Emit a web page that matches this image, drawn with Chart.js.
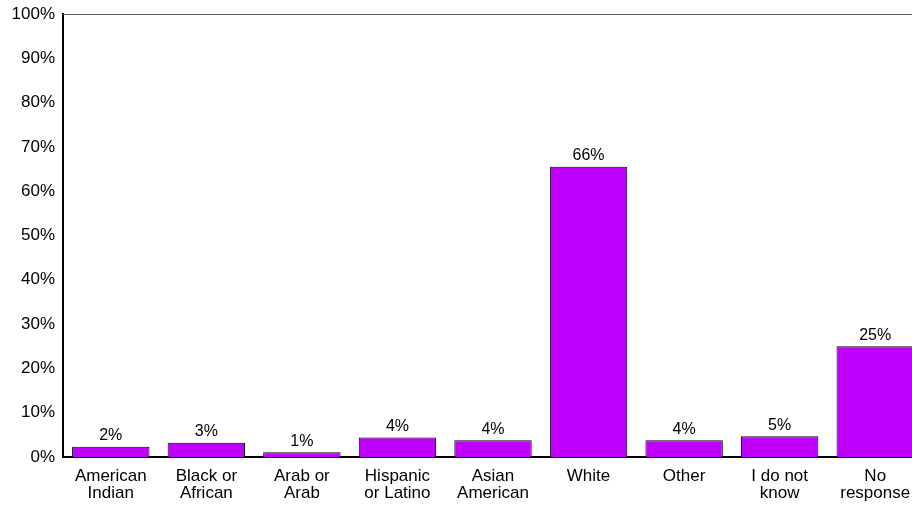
<!DOCTYPE html>
<html>
<head>
<meta charset="utf-8">
<script src="https://cdn.jsdelivr.net/npm/chart.js@4"></script>
<style>
  html, body { margin: 0; padding: 0; background: #fff; overflow: hidden; }
  #wrap { width: 925px; height: 509px; }
</style>
</head>
<body>
<div id="wrap"><canvas id="raceChart"></canvas></div>
<script>
const categories = [
    ['American', 'Indian'], ['Black or', 'African'], ['Arab or', 'Arab'],
    ['Hispanic', 'or Latino'], ['Asian', 'American'], 'White', 'Other',
    ['I do not', 'know'], ['No', 'response']
];
const percentValues = [2.3, 3.2, 1.1, 4.4, 3.8, 65.5, 3.8, 4.7, 25.0];
const yTicks = [0, 10, 20, 30, 40, 50, 60, 70, 80, 90, 100];

const FONT = '"Liberation Sans", Arial, sans-serif';

const barLabels = {
    id: 'barLabels',
    afterDatasetsDraw(chart) {
        const ctx = chart.ctx;
        const meta = chart.getDatasetMeta(0);
        ctx.save();
        ctx.font = '16px ' + FONT;
        ctx.fillStyle = '#000';
        ctx.textAlign = 'center';
        ctx.textBaseline = 'bottom';
        meta.data.forEach((bar, i) => {
            ctx.fillText(Math.round(percentValues[i]) + '%', bar.x, bar.y - 3);
        });
        ctx.restore();
    }
};

const topBorder = {
    id: 'topBorder',
    afterDraw(chart) {
        const { ctx, chartArea } = chart;
        ctx.save();
        ctx.strokeStyle = '#606060';
        ctx.lineWidth = 1;
        ctx.beginPath();
        ctx.moveTo(chartArea.left, chartArea.top + 0.5);
        ctx.lineTo(chartArea.right, chartArea.top + 0.5);
        ctx.stroke();
        ctx.restore();
    }
};

const ctx = document.getElementById('raceChart').getContext('2d');
new Chart(ctx, {
    type: 'bar',
    data: {
        labels: categories,
        datasets: [{
            data: percentValues,
            backgroundColor: '#BF00FF',
            borderColor: '#000',
            borderWidth: 1,
            barPercentage: 0.81,
            categoryPercentage: 1
        }]
    },
    options: {
        responsive: true,
        maintainAspectRatio: false,
        animation: false,
        layout: { padding: { top: 14, right: 2, left: 0, bottom: 0 } },
        plugins: {
            legend: { display: false },
            tooltip: { enabled: false }
        },
        scales: {
            x: {
                grid: { display: false, drawTicks: false },
                border: { color: '#000', width: 2 },
                ticks: {
                    color: '#000',
                    font: { family: FONT, size: 17, lineHeight: 1.0 },
                    padding: 11,
                    maxRotation: 0,
                    autoSkip: false
                },
                afterFit: s => { s.height = 52; s.paddingLeft = 0; s.paddingRight = 0; }
            },
            y: {
                min: 0,
                max: 100,
                afterBuildTicks: s => { s.ticks = yTicks.map(v => ({ value: v })); },
                grid: { display: false, drawTicks: false },
                border: { color: '#000', width: 2 },
                ticks: {
                    color: '#000',
                    font: { family: FONT, size: 17 },
                    padding: 8,
                    callback: v => v + '%'
                },
                afterFit: s => { s.width = 63; s.paddingTop = 0; s.paddingBottom = 0; }
            }
        }
    },
    plugins: [barLabels, topBorder]
});
</script>
</body>
</html>
